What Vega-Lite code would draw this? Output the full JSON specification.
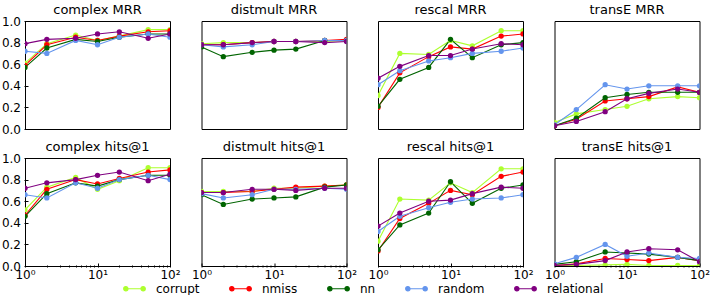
{
  "$schema": "https://vega.github.io/schema/vega-lite/v6.json",
  "padding": {"left": 1, "top": 3, "right": 5, "bottom": 0},
  "config": {
    "font": "DejaVu Sans",
    "view": {"stroke": "#000", "strokeWidth": 1},
    "axis": {"grid": false, "domain": false, "tickColor": "#000", "labelColor": "#000", "labelFontSize": 12, "labelFont": "DejaVu Sans", "tickWidth": 1, "titleFontSize": 11},
    "header": {"labelFontSize": 13, "labelColor": "#000", "labelFont": "DejaVu Sans", "labelPadding": 4}
  },
  "data": {"values": [
    {"p":"complex MRR","m":"corrupt","k":1,"v":0.61},{"p":"complex MRR","m":"corrupt","k":2,"v":0.79},{"p":"complex MRR","m":"corrupt","k":5,"v":0.87},{"p":"complex MRR","m":"corrupt","k":10,"v":0.82},{"p":"complex MRR","m":"corrupt","k":20,"v":0.86},{"p":"complex MRR","m":"corrupt","k":50,"v":0.92},{"p":"complex MRR","m":"corrupt","k":100,"v":0.92},
    {"p":"complex MRR","m":"nmiss","k":1,"v":0.59},{"p":"complex MRR","m":"nmiss","k":2,"v":0.78},{"p":"complex MRR","m":"nmiss","k":5,"v":0.85},{"p":"complex MRR","m":"nmiss","k":10,"v":0.82},{"p":"complex MRR","m":"nmiss","k":20,"v":0.86},{"p":"complex MRR","m":"nmiss","k":50,"v":0.90},{"p":"complex MRR","m":"nmiss","k":100,"v":0.91},
    {"p":"complex MRR","m":"nn","k":1,"v":0.57},{"p":"complex MRR","m":"nn","k":2,"v":0.75},{"p":"complex MRR","m":"nn","k":5,"v":0.83},{"p":"complex MRR","m":"nn","k":10,"v":0.81},{"p":"complex MRR","m":"nn","k":20,"v":0.85},{"p":"complex MRR","m":"nn","k":50,"v":0.88},{"p":"complex MRR","m":"nn","k":100,"v":0.88},
    {"p":"complex MRR","m":"random","k":1,"v":0.72},{"p":"complex MRR","m":"random","k":2,"v":0.70},{"p":"complex MRR","m":"random","k":5,"v":0.82},{"p":"complex MRR","m":"random","k":10,"v":0.78},{"p":"complex MRR","m":"random","k":20,"v":0.85},{"p":"complex MRR","m":"random","k":50,"v":0.88},{"p":"complex MRR","m":"random","k":100,"v":0.85},
    {"p":"complex MRR","m":"relational","k":1,"v":0.79},{"p":"complex MRR","m":"relational","k":2,"v":0.83},{"p":"complex MRR","m":"relational","k":5,"v":0.84},{"p":"complex MRR","m":"relational","k":10,"v":0.88},{"p":"complex MRR","m":"relational","k":20,"v":0.90},{"p":"complex MRR","m":"relational","k":50,"v":0.84},{"p":"complex MRR","m":"relational","k":100,"v":0.88},

    {"p":"distmult MRR","m":"corrupt","k":1,"v":0.79},{"p":"distmult MRR","m":"corrupt","k":2,"v":0.80},{"p":"distmult MRR","m":"corrupt","k":5,"v":0.80},{"p":"distmult MRR","m":"corrupt","k":10,"v":0.81},{"p":"distmult MRR","m":"corrupt","k":20,"v":0.81},{"p":"distmult MRR","m":"corrupt","k":50,"v":0.81},{"p":"distmult MRR","m":"corrupt","k":100,"v":0.82},
    {"p":"distmult MRR","m":"nmiss","k":1,"v":0.78},{"p":"distmult MRR","m":"nmiss","k":2,"v":0.78},{"p":"distmult MRR","m":"nmiss","k":5,"v":0.80},{"p":"distmult MRR","m":"nmiss","k":10,"v":0.81},{"p":"distmult MRR","m":"nmiss","k":20,"v":0.81},{"p":"distmult MRR","m":"nmiss","k":50,"v":0.82},{"p":"distmult MRR","m":"nmiss","k":100,"v":0.83},
    {"p":"distmult MRR","m":"nn","k":1,"v":0.76},{"p":"distmult MRR","m":"nn","k":2,"v":0.67},{"p":"distmult MRR","m":"nn","k":5,"v":0.71},{"p":"distmult MRR","m":"nn","k":10,"v":0.73},{"p":"distmult MRR","m":"nn","k":20,"v":0.74},{"p":"distmult MRR","m":"nn","k":50,"v":0.82},{"p":"distmult MRR","m":"nn","k":100,"v":0.82},
    {"p":"distmult MRR","m":"random","k":1,"v":0.78},{"p":"distmult MRR","m":"random","k":2,"v":0.76},{"p":"distmult MRR","m":"random","k":5,"v":0.78},{"p":"distmult MRR","m":"random","k":10,"v":0.81},{"p":"distmult MRR","m":"random","k":20,"v":0.81},{"p":"distmult MRR","m":"random","k":50,"v":0.82},{"p":"distmult MRR","m":"random","k":100,"v":0.82},
    {"p":"distmult MRR","m":"relational","k":1,"v":0.78},{"p":"distmult MRR","m":"relational","k":2,"v":0.78},{"p":"distmult MRR","m":"relational","k":5,"v":0.80},{"p":"distmult MRR","m":"relational","k":10,"v":0.81},{"p":"distmult MRR","m":"relational","k":20,"v":0.81},{"p":"distmult MRR","m":"relational","k":50,"v":0.80},{"p":"distmult MRR","m":"relational","k":100,"v":0.81},

    {"p":"rescal MRR","m":"corrupt","k":1,"v":0.31},{"p":"rescal MRR","m":"corrupt","k":2,"v":0.70},{"p":"rescal MRR","m":"corrupt","k":5,"v":0.69},{"p":"rescal MRR","m":"corrupt","k":10,"v":0.82},{"p":"rescal MRR","m":"corrupt","k":20,"v":0.77},{"p":"rescal MRR","m":"corrupt","k":50,"v":0.91},{"p":"rescal MRR","m":"corrupt","k":100,"v":0.91},
    {"p":"rescal MRR","m":"nmiss","k":1,"v":0.20},{"p":"rescal MRR","m":"nmiss","k":2,"v":0.52},{"p":"rescal MRR","m":"nmiss","k":5,"v":0.67},{"p":"rescal MRR","m":"nmiss","k":10,"v":0.76},{"p":"rescal MRR","m":"nmiss","k":20,"v":0.74},{"p":"rescal MRR","m":"nmiss","k":50,"v":0.86},{"p":"rescal MRR","m":"nmiss","k":100,"v":0.88},
    {"p":"rescal MRR","m":"nn","k":1,"v":0.21},{"p":"rescal MRR","m":"nn","k":2,"v":0.46},{"p":"rescal MRR","m":"nn","k":5,"v":0.57},{"p":"rescal MRR","m":"nn","k":10,"v":0.83},{"p":"rescal MRR","m":"nn","k":20,"v":0.66},{"p":"rescal MRR","m":"nn","k":50,"v":0.78},{"p":"rescal MRR","m":"nn","k":100,"v":0.80},
    {"p":"rescal MRR","m":"random","k":1,"v":0.41},{"p":"rescal MRR","m":"random","k":2,"v":0.54},{"p":"rescal MRR","m":"random","k":5,"v":0.63},{"p":"rescal MRR","m":"random","k":10,"v":0.66},{"p":"rescal MRR","m":"random","k":20,"v":0.70},{"p":"rescal MRR","m":"random","k":50,"v":0.72},{"p":"rescal MRR","m":"random","k":100,"v":0.75},
    {"p":"rescal MRR","m":"relational","k":1,"v":0.47},{"p":"rescal MRR","m":"relational","k":2,"v":0.58},{"p":"rescal MRR","m":"relational","k":5,"v":0.68},{"p":"rescal MRR","m":"relational","k":10,"v":0.68},{"p":"rescal MRR","m":"relational","k":20,"v":0.74},{"p":"rescal MRR","m":"relational","k":50,"v":0.79},{"p":"rescal MRR","m":"relational","k":100,"v":0.78},

    {"p":"transE MRR","m":"corrupt","k":1,"v":0.06},{"p":"transE MRR","m":"corrupt","k":2,"v":0.14},{"p":"transE MRR","m":"corrupt","k":5,"v":0.18},{"p":"transE MRR","m":"corrupt","k":10,"v":0.21},{"p":"transE MRR","m":"corrupt","k":20,"v":0.28},{"p":"transE MRR","m":"corrupt","k":50,"v":0.30},{"p":"transE MRR","m":"corrupt","k":100,"v":0.29},
    {"p":"transE MRR","m":"nmiss","k":1,"v":0.03},{"p":"transE MRR","m":"nmiss","k":2,"v":0.09},{"p":"transE MRR","m":"nmiss","k":5,"v":0.26},{"p":"transE MRR","m":"nmiss","k":10,"v":0.28},{"p":"transE MRR","m":"nmiss","k":20,"v":0.30},{"p":"transE MRR","m":"nmiss","k":50,"v":0.39},{"p":"transE MRR","m":"nmiss","k":100,"v":0.34},
    {"p":"transE MRR","m":"nn","k":1,"v":0.03},{"p":"transE MRR","m":"nn","k":2,"v":0.10},{"p":"transE MRR","m":"nn","k":5,"v":0.29},{"p":"transE MRR","m":"nn","k":10,"v":0.32},{"p":"transE MRR","m":"nn","k":20,"v":0.34},{"p":"transE MRR","m":"nn","k":50,"v":0.34},{"p":"transE MRR","m":"nn","k":100,"v":0.34},
    {"p":"transE MRR","m":"random","k":1,"v":0.04},{"p":"transE MRR","m":"random","k":2,"v":0.18},{"p":"transE MRR","m":"random","k":5,"v":0.41},{"p":"transE MRR","m":"random","k":10,"v":0.37},{"p":"transE MRR","m":"random","k":20,"v":0.40},{"p":"transE MRR","m":"random","k":50,"v":0.40},{"p":"transE MRR","m":"random","k":100,"v":0.40},
    {"p":"transE MRR","m":"relational","k":1,"v":0.03},{"p":"transE MRR","m":"relational","k":2,"v":0.07},{"p":"transE MRR","m":"relational","k":5,"v":0.16},{"p":"transE MRR","m":"relational","k":10,"v":0.28},{"p":"transE MRR","m":"relational","k":20,"v":0.33},{"p":"transE MRR","m":"relational","k":50,"v":0.37},{"p":"transE MRR","m":"relational","k":100,"v":0.34},

    {"p":"complex hits@1","m":"corrupt","k":1,"v":0.52},{"p":"complex hits@1","m":"corrupt","k":2,"v":0.73},{"p":"complex hits@1","m":"corrupt","k":5,"v":0.82},{"p":"complex hits@1","m":"corrupt","k":10,"v":0.71},{"p":"complex hits@1","m":"corrupt","k":20,"v":0.79},{"p":"complex hits@1","m":"corrupt","k":50,"v":0.91},{"p":"complex hits@1","m":"corrupt","k":100,"v":0.91},
    {"p":"complex hits@1","m":"nmiss","k":1,"v":0.47},{"p":"complex hits@1","m":"nmiss","k":2,"v":0.71},{"p":"complex hits@1","m":"nmiss","k":5,"v":0.80},{"p":"complex hits@1","m":"nmiss","k":10,"v":0.76},{"p":"complex hits@1","m":"nmiss","k":20,"v":0.81},{"p":"complex hits@1","m":"nmiss","k":50,"v":0.87},{"p":"complex hits@1","m":"nmiss","k":100,"v":0.89},
    {"p":"complex hits@1","m":"nn","k":1,"v":0.46},{"p":"complex hits@1","m":"nn","k":2,"v":0.67},{"p":"complex hits@1","m":"nn","k":5,"v":0.77},{"p":"complex hits@1","m":"nn","k":10,"v":0.74},{"p":"complex hits@1","m":"nn","k":20,"v":0.80},{"p":"complex hits@1","m":"nn","k":50,"v":0.84},{"p":"complex hits@1","m":"nn","k":100,"v":0.84},
    {"p":"complex hits@1","m":"random","k":1,"v":0.66},{"p":"complex hits@1","m":"random","k":2,"v":0.63},{"p":"complex hits@1","m":"random","k":5,"v":0.77},{"p":"complex hits@1","m":"random","k":10,"v":0.72},{"p":"complex hits@1","m":"random","k":20,"v":0.80},{"p":"complex hits@1","m":"random","k":50,"v":0.84},{"p":"complex hits@1","m":"random","k":100,"v":0.80},
    {"p":"complex hits@1","m":"relational","k":1,"v":0.72},{"p":"complex hits@1","m":"relational","k":2,"v":0.77},{"p":"complex hits@1","m":"relational","k":5,"v":0.80},{"p":"complex hits@1","m":"relational","k":10,"v":0.84},{"p":"complex hits@1","m":"relational","k":20,"v":0.87},{"p":"complex hits@1","m":"relational","k":50,"v":0.79},{"p":"complex hits@1","m":"relational","k":100,"v":0.85},

    {"p":"distmult hits@1","m":"corrupt","k":1,"v":0.69},{"p":"distmult hits@1","m":"corrupt","k":2,"v":0.69},{"p":"distmult hits@1","m":"corrupt","k":5,"v":0.69},{"p":"distmult hits@1","m":"corrupt","k":10,"v":0.72},{"p":"distmult hits@1","m":"corrupt","k":20,"v":0.72},{"p":"distmult hits@1","m":"corrupt","k":50,"v":0.74},{"p":"distmult hits@1","m":"corrupt","k":100,"v":0.75},
    {"p":"distmult hits@1","m":"nmiss","k":1,"v":0.68},{"p":"distmult hits@1","m":"nmiss","k":2,"v":0.68},{"p":"distmult hits@1","m":"nmiss","k":5,"v":0.69},{"p":"distmult hits@1","m":"nmiss","k":10,"v":0.71},{"p":"distmult hits@1","m":"nmiss","k":20,"v":0.73},{"p":"distmult hits@1","m":"nmiss","k":50,"v":0.74},{"p":"distmult hits@1","m":"nmiss","k":100,"v":0.75},
    {"p":"distmult hits@1","m":"nn","k":1,"v":0.66},{"p":"distmult hits@1","m":"nn","k":2,"v":0.57},{"p":"distmult hits@1","m":"nn","k":5,"v":0.62},{"p":"distmult hits@1","m":"nn","k":10,"v":0.63},{"p":"distmult hits@1","m":"nn","k":20,"v":0.64},{"p":"distmult hits@1","m":"nn","k":50,"v":0.73},{"p":"distmult hits@1","m":"nn","k":100,"v":0.75},
    {"p":"distmult hits@1","m":"random","k":1,"v":0.67},{"p":"distmult hits@1","m":"random","k":2,"v":0.63},{"p":"distmult hits@1","m":"random","k":5,"v":0.66},{"p":"distmult hits@1","m":"random","k":10,"v":0.71},{"p":"distmult hits@1","m":"random","k":20,"v":0.71},{"p":"distmult hits@1","m":"random","k":50,"v":0.72},{"p":"distmult hits@1","m":"random","k":100,"v":0.71},
    {"p":"distmult hits@1","m":"relational","k":1,"v":0.68},{"p":"distmult hits@1","m":"relational","k":2,"v":0.68},{"p":"distmult hits@1","m":"relational","k":5,"v":0.71},{"p":"distmult hits@1","m":"relational","k":10,"v":0.71},{"p":"distmult hits@1","m":"relational","k":20,"v":0.70},{"p":"distmult hits@1","m":"relational","k":50,"v":0.72},{"p":"distmult hits@1","m":"relational","k":100,"v":0.72},

    {"p":"rescal hits@1","m":"corrupt","k":1,"v":0.23},{"p":"rescal hits@1","m":"corrupt","k":2,"v":0.62},{"p":"rescal hits@1","m":"corrupt","k":5,"v":0.61},{"p":"rescal hits@1","m":"corrupt","k":10,"v":0.77},{"p":"rescal hits@1","m":"corrupt","k":20,"v":0.68},{"p":"rescal hits@1","m":"corrupt","k":50,"v":0.90},{"p":"rescal hits@1","m":"corrupt","k":100,"v":0.90},
    {"p":"rescal hits@1","m":"nmiss","k":1,"v":0.14},{"p":"rescal hits@1","m":"nmiss","k":2,"v":0.44},{"p":"rescal hits@1","m":"nmiss","k":5,"v":0.58},{"p":"rescal hits@1","m":"nmiss","k":10,"v":0.70},{"p":"rescal hits@1","m":"nmiss","k":20,"v":0.66},{"p":"rescal hits@1","m":"nmiss","k":50,"v":0.83},{"p":"rescal hits@1","m":"nmiss","k":100,"v":0.87},
    {"p":"rescal hits@1","m":"nn","k":1,"v":0.15},{"p":"rescal hits@1","m":"nn","k":2,"v":0.38},{"p":"rescal hits@1","m":"nn","k":5,"v":0.49},{"p":"rescal hits@1","m":"nn","k":10,"v":0.78},{"p":"rescal hits@1","m":"nn","k":20,"v":0.58},{"p":"rescal hits@1","m":"nn","k":50,"v":0.72},{"p":"rescal hits@1","m":"nn","k":100,"v":0.75},
    {"p":"rescal hits@1","m":"random","k":1,"v":0.32},{"p":"rescal hits@1","m":"random","k":2,"v":0.46},{"p":"rescal hits@1","m":"random","k":5,"v":0.54},{"p":"rescal hits@1","m":"random","k":10,"v":0.59},{"p":"rescal hits@1","m":"random","k":20,"v":0.62},{"p":"rescal hits@1","m":"random","k":50,"v":0.63},{"p":"rescal hits@1","m":"random","k":100,"v":0.66},
    {"p":"rescal hits@1","m":"relational","k":1,"v":0.37},{"p":"rescal hits@1","m":"relational","k":2,"v":0.49},{"p":"rescal hits@1","m":"relational","k":5,"v":0.60},{"p":"rescal hits@1","m":"relational","k":10,"v":0.61},{"p":"rescal hits@1","m":"relational","k":20,"v":0.67},{"p":"rescal hits@1","m":"relational","k":50,"v":0.73},{"p":"rescal hits@1","m":"relational","k":100,"v":0.72},

    {"p":"transE hits@1","m":"corrupt","k":1,"v":0.005},{"p":"transE hits@1","m":"corrupt","k":2,"v":0.005},{"p":"transE hits@1","m":"corrupt","k":5,"v":0.01},{"p":"transE hits@1","m":"corrupt","k":10,"v":0.015},{"p":"transE hits@1","m":"corrupt","k":20,"v":0.005},{"p":"transE hits@1","m":"corrupt","k":50,"v":0.005},{"p":"transE hits@1","m":"corrupt","k":100,"v":0.005},
    {"p":"transE hits@1","m":"nmiss","k":1,"v":0.005},{"p":"transE hits@1","m":"nmiss","k":2,"v":0.02},{"p":"transE hits@1","m":"nmiss","k":5,"v":0.07},{"p":"transE hits@1","m":"nmiss","k":10,"v":0.06},{"p":"transE hits@1","m":"nmiss","k":20,"v":0.05},{"p":"transE hits@1","m":"nmiss","k":50,"v":0.08},{"p":"transE hits@1","m":"nmiss","k":100,"v":0.05},
    {"p":"transE hits@1","m":"nn","k":1,"v":0.015},{"p":"transE hits@1","m":"nn","k":2,"v":0.04},{"p":"transE hits@1","m":"nn","k":5,"v":0.13},{"p":"transE hits@1","m":"nn","k":10,"v":0.12},{"p":"transE hits@1","m":"nn","k":20,"v":0.11},{"p":"transE hits@1","m":"nn","k":50,"v":0.08},{"p":"transE hits@1","m":"nn","k":100,"v":0.05},
    {"p":"transE hits@1","m":"random","k":1,"v":0.02},{"p":"transE hits@1","m":"random","k":2,"v":0.08},{"p":"transE hits@1","m":"random","k":5,"v":0.20},{"p":"transE hits@1","m":"random","k":10,"v":0.09},{"p":"transE hits@1","m":"random","k":20,"v":0.12},{"p":"transE hits@1","m":"random","k":50,"v":0.08},{"p":"transE hits@1","m":"random","k":100,"v":0.07},
    {"p":"transE hits@1","m":"relational","k":1,"v":0.005},{"p":"transE hits@1","m":"relational","k":2,"v":0.015},{"p":"transE hits@1","m":"relational","k":5,"v":0.05},{"p":"transE hits@1","m":"relational","k":10,"v":0.13},{"p":"transE hits@1","m":"relational","k":20,"v":0.16},{"p":"transE hits@1","m":"relational","k":50,"v":0.15},{"p":"transE hits@1","m":"relational","k":100,"v":0.04}
  ]},
  "facet": {"field": "p", "type": "nominal", "title": null,
    "sort": ["complex MRR","distmult MRR","rescal MRR","transE MRR","complex hits@1","distmult hits@1","rescal hits@1","transE hits@1"]},
  "columns": 4,
  "spacing": {"row": 10, "column": 29.5},
  "spec": {
    "width": 145,
    "height": 108,
    "encoding": {
      "x": {"field": "k", "type": "quantitative", "title": null,
        "scale": {"type": "log", "domain": [1, 100]},
        "axis": {"values": [1,2,3,4,5,6,7,8,9,10,20,30,40,50,60,70,80,90,100],
          "labelExpr": "datum.value == 1 ? '10⁰' : datum.value == 10 ? '10¹' : datum.value == 100 ? '10²' : ''",
          "tickSize": {"condition": {"test": "datum.value == 1 || datum.value == 10 || datum.value == 100", "value": -4}, "value": -2},
          "labelPadding": 6, "labelFlush": false}},
      "y": {"field": "v", "type": "quantitative", "title": null,
        "scale": {"domain": [0, 1], "nice": false},
        "axis": {"values": [0,0.2,0.4,0.6,0.8,1.0], "format": ".1f", "tickSize": -4, "labelPadding": 7.5}},
      "color": {"field": "m", "type": "nominal",
        "scale": {"domain": ["corrupt","nmiss","nn","random","relational"], "range": ["#adff2f","#ff0000","#006400","#6495ed","#800080"]},
        "legend": {"title": null, "orient": "none", "direction": "horizontal", "legendX": 100, "legendY": 258,
          "labelFontSize": 12, "labelColor": "#000", "labelFont": "DejaVu Sans", "columnPadding": 27, "labelOffset": 12,
          "symbolType": "M-1,0L1,0M-1.25,0a0.25,0.25 0 1,0 0.5,0a0.25,0.25 0 1,0 -0.5,0M0.75,0a0.25,0.25 0 1,0 0.5,0a0.25,0.25 0 1,0 -0.5,0",
          "symbolSize": 300, "symbolStrokeWidth": 1.2}}
    },
    "layer": [
      {"mark": {"type": "line", "strokeWidth": 1.1, "clip": true}},
      {"mark": {"type": "point", "filled": true, "size": 28, "opacity": 1, "clip": true}}
    ]
  }
}
